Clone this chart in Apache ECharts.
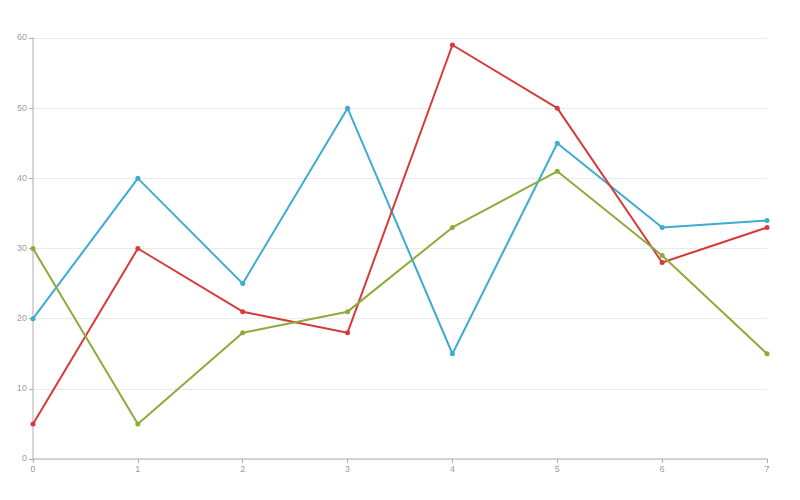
<!DOCTYPE html>
<html>
<head>
<meta charset="utf-8">
<script src="https://cdn.jsdelivr.net/npm/echarts@6/dist/echarts.min.js"></script>
<style>
    html, body { margin: 0; padding: 0; background: #fff; }
    #main { width: 800px; height: 500px; }
</style>
</head>
<body>
<div id="main"></div>
<script>
var categories = ['0', '1', '2', '3', '4', '5', '6', '7'];
var blueValues = [20, 40, 25, 50, 15, 45, 33, 34];
var redValues = [5, 30, 21, 18, 59, 50, 28, 33];
var greenValues = [30, 5, 18, 21, 33, 41, 29, 15];

var chart = echarts.init(document.getElementById('main'));

function lineSeries(data, color) {
    return {
        type: 'line',
        data: data,
        symbol: 'circle',
        symbolSize: 5,
        lineStyle: { color: color, width: 2 },
        itemStyle: { color: color }
    };
}

var option = {
    animation: false,
    grid: {
        left: 33,
        right: 33,
        top: 38,
        bottom: 41
    },
    xAxis: {
        type: 'category',
        data: categories,
        boundaryGap: false,
        axisLine: { lineStyle: { color: '#c8c8c8', width: 1.5 } },
        axisTick: { show: true, length: 4, lineStyle: { color: '#aaa' } },
        axisLabel: { color: '#999', fontSize: 9, margin: 6 },
        splitLine: { show: false }
    },
    yAxis: {
        type: 'value',
        min: 0,
        max: 60,
        interval: 10,
        axisLine: { show: true, lineStyle: { color: '#c8c8c8', width: 1.5 } },
        axisTick: { show: true, length: 4, lineStyle: { color: '#aaa' } },
        axisLabel: { color: '#999', fontSize: 9, margin: 6 },
        splitLine: { lineStyle: { color: '#eaeaea' } }
    },
    series: [
        lineSeries(blueValues, '#3fabd3'),
        lineSeries(redValues, '#d63a3a'),
        lineSeries(greenValues, '#8dab3a')
    ]
};
chart.setOption(option);
</script>
</body>
</html>
